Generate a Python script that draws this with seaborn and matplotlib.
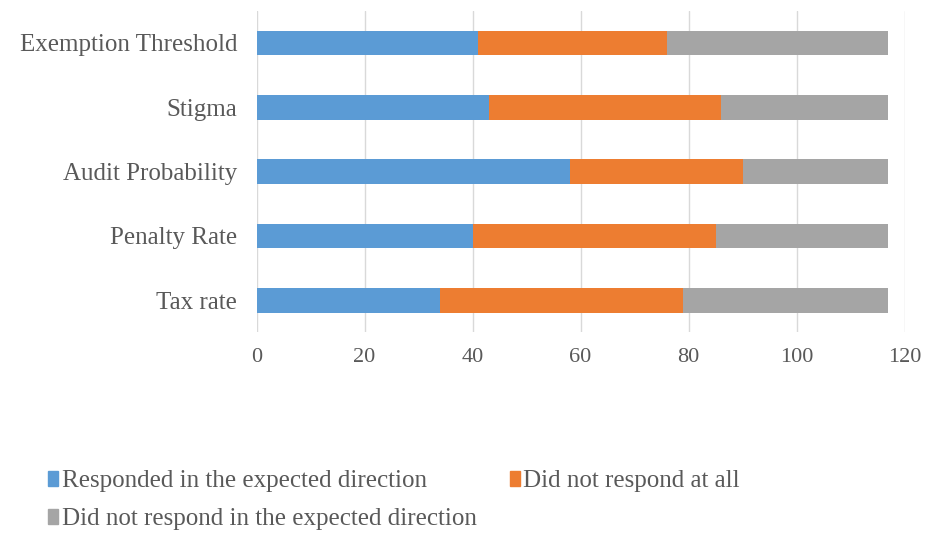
import matplotlib
matplotlib.use("Agg")
import matplotlib.pyplot as plt
import seaborn as sns
import pandas as pd
import numpy as np
from matplotlib.patches import Patch

categories = ["Exemption Threshold", "Stigma", "Audit Probability", "Penalty Rate", "Tax rate"]
responded = [41, 43, 58, 40, 34]
no_response = [35, 43, 32, 45, 45]
unexpected = [41, 31, 27, 32, 38]
series_names = ["Responded in the expected direction", "Did not respond at all",
                "Did not respond in the expected direction"]
xticks = [0, 20, 40, 60, 80, 100, 120]

colors = ["#5B9BD5", "#ED7D31", "#A5A5A5"]
text_color = "#595959"

sns.set_theme(style="white")
plt.rcParams['font.family'] = ['Liberation Serif', 'DejaVu Serif']

df = pd.DataFrame({"cat": categories,
                   "r": responded, "n": no_response, "u": unexpected})
df["c1"] = df["r"]
df["c2"] = df["r"] + df["n"]
df["c3"] = df["r"] + df["n"] + df["u"]

fig = plt.figure(figsize=(9.26, 5.38), dpi=100)
ax = fig.add_axes([0.277, 0.382, 0.700, 0.598])

w = 0.38
sns.barplot(data=df, y="cat", x="c3", color=colors[2], width=w, ax=ax, orient="h", saturation=1)
sns.barplot(data=df, y="cat", x="c2", color=colors[1], width=w, ax=ax, orient="h", saturation=1)
sns.barplot(data=df, y="cat", x="c1", color=colors[0], width=w, ax=ax, orient="h", saturation=1)
for p in ax.patches:
    p.set_linewidth(0)

ax.set_xlim(0, 120)
ax.set_ylim(4.5, -0.5)
ax.set_xticks(xticks)
ax.set_xticklabels([str(t) for t in xticks], fontsize=16, color=text_color)
ax.tick_params(axis="y", labelsize=18, labelcolor=text_color, length=0, pad=14)
ax.tick_params(axis="x", length=0, pad=11)
ax.set_xlabel("")
ax.set_ylabel("")
ax.xaxis.grid(True, color="#D9D9D9", linewidth=1)
ax.set_axisbelow(True)
for s in ax.spines.values():
    s.set_visible(False)

handles = [Patch(color=c, label=l) for c, l in zip(colors, series_names)]
order = [0, 2, 1]
leg = fig.legend(handles=[handles[i] for i in order], loc="upper left",
                 bbox_to_anchor=(0.028, 0.168),
                 ncol=2, frameon=False, fontsize=18, handlelength=0.4, handleheight=0.55,
                 handletextpad=0.15, columnspacing=1.3, labelspacing=0.65)
for t in leg.get_texts():
    t.set_color(text_color)

fig.savefig("out.png", dpi=100)
